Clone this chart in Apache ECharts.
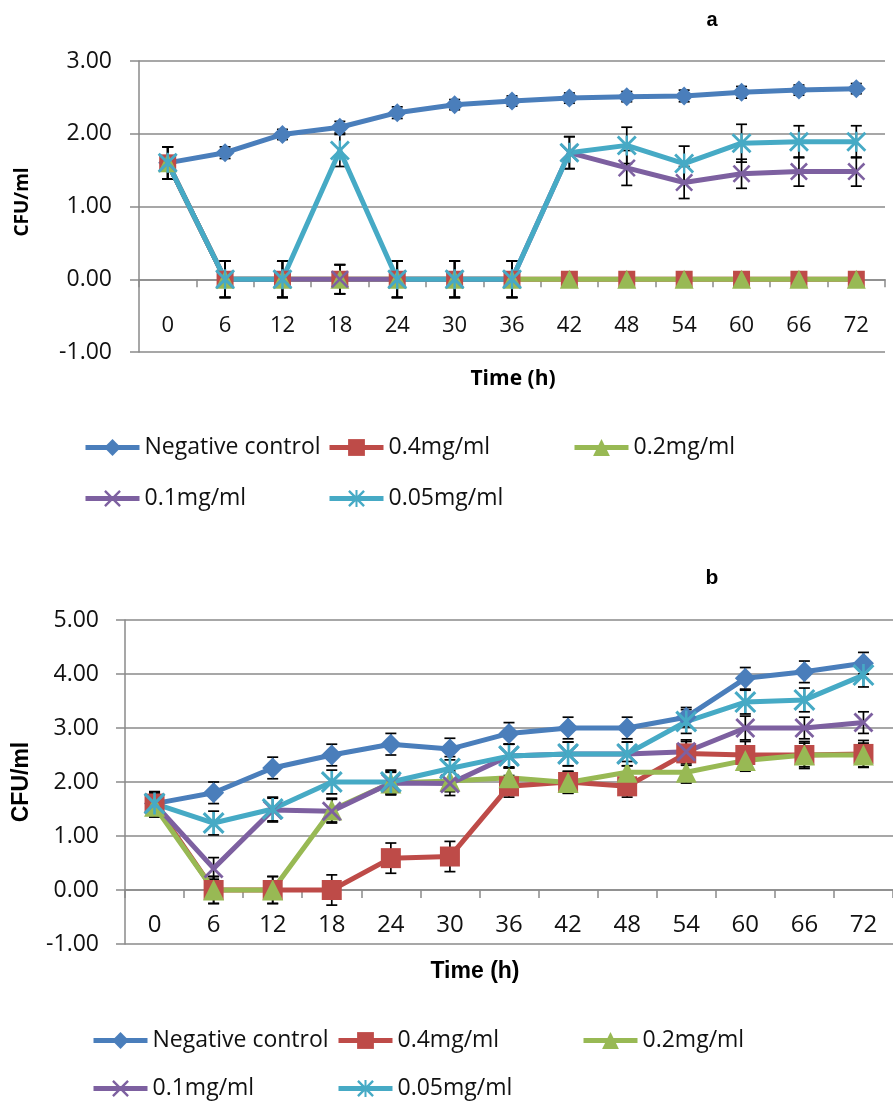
<!DOCTYPE html>
<html><head><meta charset="utf-8">
<script src="https://cdn.jsdelivr.net/npm/echarts@6/dist/echarts.min.js"></script>
<style>html,body{margin:0;padding:0;background:#fff}#c{width:893px;height:1101px}</style>
</head><body><div id="c"></div>
<script>
// ---- data ----
const hours = ['0','6','12','18','24','30','36','42','48','54','60','66','72'];
const seriesNames = ['Negative control','0.4mg/ml','0.2mg/ml','0.1mg/ml','0.05mg/ml'];
const yTicksA = [-1, 3, 1];   // min, max, interval
const yTicksB = [-1, 5, 1];

// panel a
const aNegCtrl = [1.60,1.74,1.99,2.09,2.29,2.40,2.45,2.49,2.51,2.52,2.57,2.60,2.62];
const a04      = [1.60,0,0,0,0,0,0,0,0,0,0,0,0];
const a02      = [1.60,0,0,0,0,0,0,0,0,0,0,0,0];
const a01      = [1.60,0,0,0,0,0,0,1.74,1.53,1.33,1.45,1.48,1.48];
const a005     = [1.60,0,0,1.77,0,0,0,1.74,1.84,1.59,1.87,1.89,1.89];
const aErrNegCtrl = [0.08,0.08,0.07,0.08,0.08,0.07,0.07,0.07,0.07,0.08,0.08,0.07,0.07];
const aErr04      = [0.22,0.25,0.25,0.20,0.25,0.25,0.25,0,0,0,0,0,0];
const aErr02      = [0.22,0.25,0.25,0.20,0.25,0.25,0.25,0,0,0,0,0,0];
const aErr01      = [0.22,0.25,0.25,0.20,0.25,0.25,0.25,0.22,0.24,0.22,0.20,0.20,0.20];
const aErr005     = [0.22,0.25,0.25,0.22,0.25,0.25,0.25,0.22,0.25,0.24,0.26,0.22,0.22];

// panel b
const bNegCtrl = [1.60,1.80,2.26,2.50,2.70,2.61,2.90,3.00,3.00,3.20,3.92,4.04,4.20];
const b04      = [1.60,0,0,0,0.59,0.62,1.92,2.00,1.92,2.53,2.50,2.50,2.52];
const b02      = [1.55,0,0,1.48,1.98,2.02,2.08,1.99,2.18,2.18,2.40,2.50,2.50];
const b01      = [1.60,0.40,1.48,1.46,1.98,1.97,2.48,2.52,2.52,2.56,3.00,3.00,3.10];
const b005     = [1.60,1.24,1.50,2.00,2.00,2.25,2.48,2.52,2.52,3.12,3.48,3.52,3.98];
const bErrNegCtrl = [0.20,0.20,0.20,0.20,0.20,0.20,0.20,0.20,0.20,0.18,0.20,0.20,0.20];
const bErr04      = [0.20,0.25,0.25,0.28,0.28,0.28,0.20,0.20,0.20,0.22,0.25,0.25,0.25];
const bErr02      = [0.20,0.25,0.25,0.22,0.20,0.20,0.20,0.20,0.20,0.20,0.20,0.22,0.22];
const bErr01      = [0.22,0.20,0.22,0.22,0.22,0.22,0.22,0.22,0.22,0.22,0.22,0.20,0.20];
const bErr005     = [0.22,0.22,0.22,0.22,0.22,0.22,0.22,0.22,0.22,0.22,0.22,0.22,0.22];

// ---- style ----
const colors = ['#4A7EBB','#BE4B48','#98B954','#7D60A0','#46AAC5'];
const XPATH = 'path://M0,1 L1,0 L5,4 L9,0 L10,1 L6,5 L10,9 L9,10 L5,6 L1,10 L0,9 L4,5 Z';
const STARPATH = 'path://M0,1 L1,0 L5,4 L9,0 L10,1 L6,5 L10,9 L9,10 L5,6 L1,10 L0,9 L4,5 Z M4.4,0 L5.6,0 L5.6,10 L4.4,10 Z';
const symbols = ['diamond','rect','triangle',XPATH,STARPATH];
const symSizeA = [19,17,19,18,20];
const symSizeB = [21,20,21,20,22];
const GRAY = '#8a8a8a';
const FONT = '"Open Sans", sans-serif';

const panels = [
  {vals:[aNegCtrl,a04,a02,a01,a005], errs:[aErrNegCtrl,aErr04,aErr02,aErr01,aErr005], sizes:symSizeA},
  {vals:[bNegCtrl,b04,b02,b01,b005], errs:[bErrNegCtrl,bErr04,bErr02,bErr01,bErr005], sizes:symSizeB}
];

const grids = [
  {left:139, top:61, width:746, height:291},
  {left:125, top:620, width:780, height:324}
];

function xAxisFor(gi, margin, fs){
  return {type:'category', gridIndex:gi, data:hours, boundaryGap:true,
    axisLine:{onZero:true, lineStyle:{color:GRAY, width:1.5}},
    axisTick:{show:true, length:8, lineStyle:{color:GRAY, width:1.5}},
    axisLabel:{margin:margin, fontFamily:FONT, fontSize:fs, color:'#111'},
    splitLine:{show:false}};
}
function yAxisFor(gi, t, margin){
  return {type:'value', gridIndex:gi, min:t[0], max:t[1], interval:t[2],
    axisLine:{show:true, onZero:false, lineStyle:{color:GRAY, width:1.5}},
    axisTick:{show:true, length:9, lineStyle:{color:GRAY, width:1.5}},
    splitLine:{show:true, lineStyle:{color:GRAY, width:1.5}},
    axisLabel:{margin:margin, fontFamily:FONT, fontSize:23, color:'#111',
      formatter:v=>v.toFixed(2)}};
}

const series = [];
panels.forEach((p, gi) => {
  p.vals.forEach((vals, si) => {
    const errs = p.errs[si];
    series.push({
      type:'custom', name:'err'+gi+'_'+si, xAxisIndex:gi, yAxisIndex:gi, silent:true, z:1,
      data: vals.map((v,i)=>[i, v, errs[i]]),
      renderItem:(params, api)=>{
        const i = api.value(0), v = api.value(1), e = api.value(2);
        if (!e) return null;
        const t = api.coord([i, v+e]), b = api.coord([i, v-e]);
        const w = 5.5, st = {stroke:'#000', lineWidth:1.7};
        return {type:'group', children:[
          {type:'line', shape:{x1:t[0],y1:t[1],x2:b[0],y2:b[1]}, style:st},
          {type:'line', shape:{x1:t[0]-w,y1:t[1],x2:t[0]+w,y2:t[1]}, style:st},
          {type:'line', shape:{x1:b[0]-w,y1:b[1],x2:b[0]+w,y2:b[1]}, style:st}
        ]};
      }
    });
  });
  p.vals.forEach((vals, si) => {
    series.push({
      type:'line', name:seriesNames[si], xAxisIndex:gi, yAxisIndex:gi, z:2,
      data: vals, symbol:symbols[si], symbolSize:p.sizes[si], showAllSymbol:true,
      lineStyle:{color:colors[si], width:5},
      itemStyle:{color:colors[si], borderWidth:0},
      animation:false
    });
  });
});

function leg(name, left, top){
  return {data:[name], left:left, top:top, padding:0, itemWidth:54, itemHeight:21,
    selectedMode:false, lineStyle:{width:5},
    textStyle:{fontFamily:FONT, fontSize:23, color:'#111', padding:[0,0,0,0]}};
}
const legends = [
  leg(seriesNames[0], 83, 436), leg(seriesNames[1], 327, 436), leg(seriesNames[2], 572, 436),
  leg(seriesNames[3], 83, 487), leg(seriesNames[4], 327, 487),
  leg(seriesNames[0], 91, 1029), leg(seriesNames[1], 336, 1029), leg(seriesNames[2], 581, 1029),
  leg(seriesNames[3], 91, 1077), leg(seriesNames[4], 336, 1077)
];

const graphic = [
  {type:'text', x:712, y:20, style:{text:'a', font:'bold 20px "Liberation Sans", Arial', fill:'#000', align:'center', verticalAlign:'middle'}},
  {type:'text', x:712, y:578, style:{text:'b', font:'bold 21px "Liberation Sans", Arial', fill:'#000', align:'center', verticalAlign:'middle'}},
  {type:'text', x:513, y:379, style:{text:'Time (h)', font:'bold 21px "Open Sans"', fill:'#000', align:'center', verticalAlign:'middle'}},
  {type:'text', x:475, y:972, style:{text:'Time (h)', font:'bold 23px "Liberation Sans", Arial', fill:'#000', align:'center', verticalAlign:'middle'}},
  {type:'text', x:23, y:202, rotation:Math.PI/2, style:{text:'CFU/ml', font:'bold 19px "Open Sans"', fill:'#000', align:'center', verticalAlign:'middle'}},
  {type:'text', x:22, y:782, rotation:Math.PI/2, style:{text:'CFU/ml', font:'bold 23px "Liberation Sans", Arial', fill:'#000', align:'center', verticalAlign:'middle'}}
];

const chart = echarts.init(document.getElementById('c'), null, {renderer:'canvas'});
chart.setOption({
  animation:false,
  backgroundColor:'#fff',
  grid: grids,
  xAxis: [xAxisFor(0, -37, 22), xAxisFor(1, -31, 24)],
  yAxis: [yAxisFor(0, yTicksA, 27), yAxisFor(1, yTicksB, 26)],
  legend: legends,
  graphic: graphic,
  series: series
});
</script></body></html>
